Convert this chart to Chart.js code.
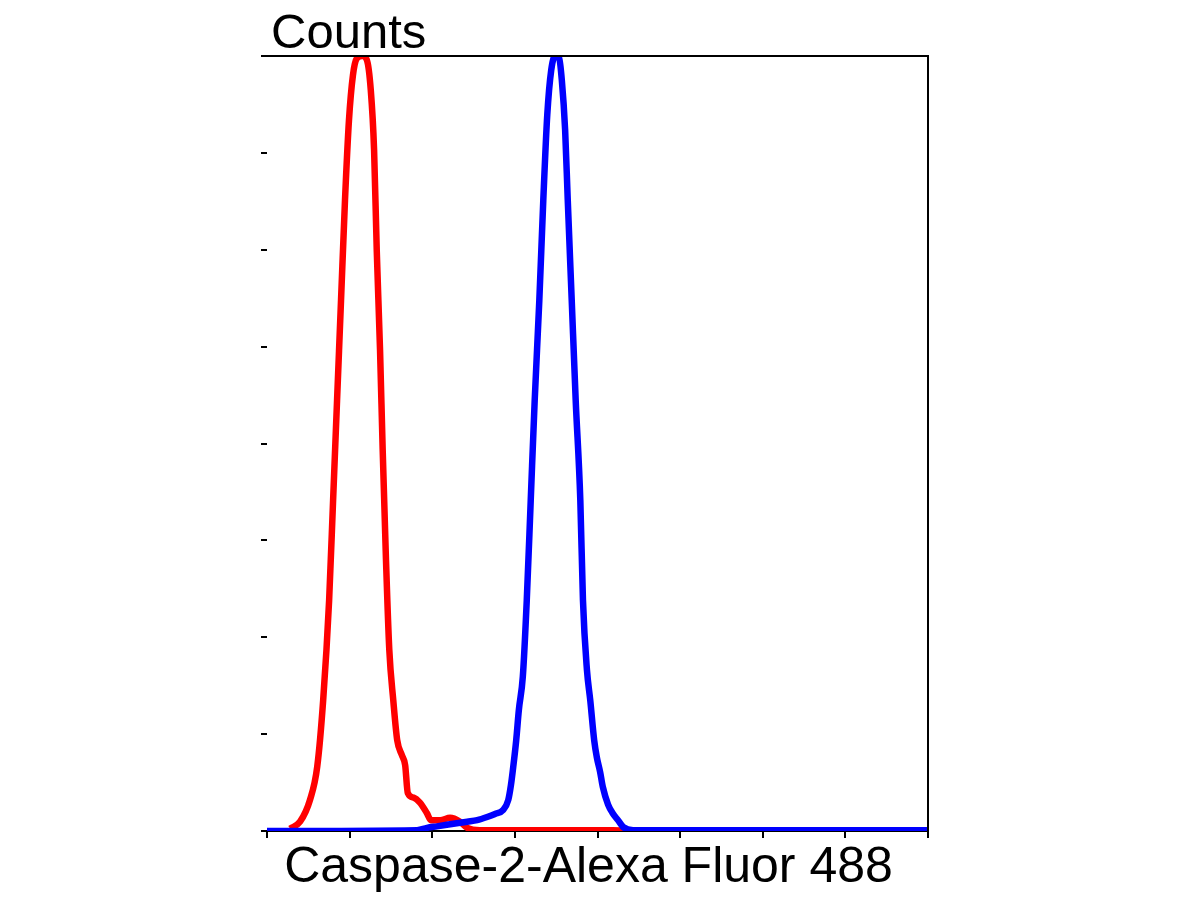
<!DOCTYPE html>
<html lang="en">
<head>
    <meta charset="UTF-8">
    <title>Caspase-2 histogram</title>
    <script src="https://cdn.jsdelivr.net/npm/chart.js"></script>
    <style>
        html, body { margin: 0; padding: 0; background: #fff; }
        #wrap { width: 1200px; height: 900px; }
    </style>
</head>
<body>
<div id="wrap"><canvas id="histChart" width="1200" height="900"></canvas></div>

<script>
    // channel (0-1000) and relative counts (0-100)
    const controlX = [35, 50, 65, 76, 85, 94, 100, 106, 112, 118, 124, 130, 136, 144, 151, 157, 162, 166, 171, 175, 180, 185, 191, 197, 204, 209, 213, 222, 231, 242, 248, 262, 277, 292, 303, 322, 523, 549];
    const controlY = [0.3, 1.2, 4.0, 8.3, 16.9, 29.8, 42.7, 55.6, 68.5, 81.4, 91.7, 97.5, 99.7, 100, 99.5, 95.6, 87.9, 75.0, 62.1, 49.2, 35.0, 23.4, 16.9, 11.7, 9.8, 8.5, 4.9, 4.3, 3.7, 2.3, 1.4, 1.4, 1.7, 1.2, 0.4, 0.1, 0.1, 0];

    const stainedX = [0, 227, 242, 257, 272, 287, 303, 318, 333, 345, 357, 365, 369, 372, 377, 381, 387, 393, 399, 405, 412, 418, 424, 430, 436, 442, 446, 451, 455, 461, 467, 474, 478, 484, 489, 495, 499, 504, 508, 516, 523, 531, 539, 554, 1000];
    const stainedY = [0, 0.1, 0.4, 0.6, 0.8, 1.0, 1.2, 1.4, 1.8, 2.2, 2.7, 4.0, 5.9, 7.9, 11.7, 15.6, 19.9, 29.8, 42.7, 55.6, 68.5, 81.4, 92.4, 98.2, 100, 99.7, 96.9, 90.5, 81.4, 68.5, 55.6, 42.7, 29.8, 20.8, 16.9, 11.7, 9.5, 7.6, 5.7, 3.4, 2.3, 1.4, 0.5, 0.1, 0.1];

    const xTitle = 'Caspase-2-Alexa Fluor 488';
    const yTitle = 'Counts';

    const toPoints = (xs, ys) => xs.map((x, i) => ({ x: x, y: ys[i] }));

    // frame on top/right plus the two axis titles
    const framePlugin = {
        id: 'frame',
        afterDraw(chart) {
            const { ctx, chartArea: a } = chart;
            ctx.save();
            ctx.strokeStyle = '#000';
            ctx.lineWidth = 2;
            ctx.beginPath();
            ctx.moveTo(a.left, a.top);
            ctx.lineTo(a.right, a.top);
            ctx.lineTo(a.right, a.bottom);
            ctx.stroke();

            ctx.fillStyle = '#000';
            ctx.textBaseline = 'alphabetic';
            ctx.font = '49px "Liberation Sans", Arial, sans-serif';
            ctx.textAlign = 'left';
            ctx.fillText(yTitle, a.left + 4, a.top - 8);

            ctx.font = '50px "Liberation Sans", Arial, sans-serif';
            ctx.textAlign = 'center';
            ctx.fillText(xTitle, (a.left + a.right) / 2 - 9, a.bottom + 51);
            ctx.restore();
        }
    };

    const ctx = document.getElementById('histChart').getContext('2d');
    new Chart(ctx, {
        type: 'line',
        data: {
            datasets: [
                {
                    label: 'Caspase-2',
                    data: toPoints(stainedX, stainedY),
                    borderColor: '#0000ff',
                    borderWidth: 6.5,
                    pointRadius: 0,
                    cubicInterpolationMode: 'monotone',
                    fill: false,
                    order: 0
                },
                {
                    label: 'Control',
                    data: toPoints(controlX, controlY),
                    borderColor: '#ff0000',
                    borderWidth: 6.5,
                    pointRadius: 0,
                    cubicInterpolationMode: 'monotone',
                    fill: false,
                    order: 1
                }
            ]
        },
        options: {
            responsive: false,
            animation: false,
            layout: { padding: { left: 0, top: 56, right: 272, bottom: 0 } },
            plugins: {
                legend: { display: false },
                tooltip: { enabled: false }
            },
            scales: {
                x: {
                    type: 'linear',
                    min: 0,
                    max: 1000,
                    afterFit: s => { s.height = 69; },
                    ticks: { stepSize: 125, display: false },
                    grid: { drawOnChartArea: false, drawTicks: true, tickLength: 7, color: '#000', lineWidth: 2 },
                    border: { display: true, color: '#000', width: 2 }
                },
                y: {
                    type: 'linear',
                    min: 0,
                    max: 100,
                    afterFit: s => { s.width = 267; },
                    ticks: { stepSize: 12.5, display: false },
                    grid: { drawOnChartArea: false, drawTicks: true, tickLength: 6, color: '#000', lineWidth: 2 },
                    border: { display: false }
                }
            }
        },
        plugins: [framePlugin]
    });
</script>
</body>
</html>
